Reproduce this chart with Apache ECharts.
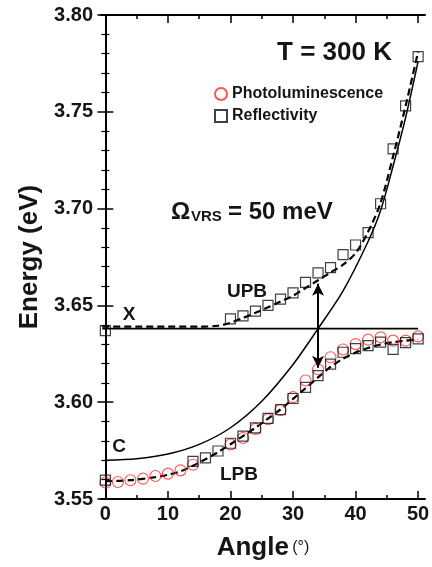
<!DOCTYPE html>
<html>
<head>
<meta charset="utf-8">
<script src="https://cdn.jsdelivr.net/npm/echarts@6/dist/echarts.min.js"></script>
<style>
  html, body { margin: 0; padding: 0; background: #fff; }
  #chart { width: 432px; height: 567px; }
</style>
</head>
<body>
<div id="chart"></div>
<script>
// 反射谱 上支
var reflUpAngle = [0, 20, 22, 24, 26, 28, 30, 32, 34, 36, 38, 40, 42, 44, 46, 48, 50];
var reflUpEnergy = [3.637, 3.643, 3.6446, 3.647, 3.650, 3.6532, 3.6565, 3.6619, 3.6668, 3.6695, 3.6762, 3.6812, 3.6876, 3.7025, 3.7308, 3.7531, 3.7785];
// 反射谱 下支
var reflLowAngle = [0, 14, 16, 18, 20, 22, 24, 26, 28, 30, 32, 34, 36, 38, 40, 42, 44, 46, 48, 50];
var reflLowEnergy = [3.5597, 3.5694, 3.5712, 3.5748, 3.5788, 3.5825, 3.5867, 3.5916, 3.5962, 3.6019, 3.6077, 3.6137, 3.6197, 3.6258, 3.6277, 3.6292, 3.6310, 3.6273, 3.6308, 3.6327];
// 光致发光
var plAngle = [0, 2, 4, 6, 8, 10, 12, 14, 20, 22, 24, 26, 28, 30, 32, 34, 36, 38, 40, 42, 44, 46, 48, 50];
var plEnergy = [3.5585, 3.5588, 3.5597, 3.5605, 3.5619, 3.5631, 3.5648, 3.5677, 3.5782, 3.5815, 3.5862, 3.5912, 3.5960, 3.6026, 3.6112, 3.6170, 3.6232, 3.6272, 3.6300, 3.6323, 3.6335, 3.6318, 3.6318, 3.6340];
// 光子模 C
var cAngle = [0, 5, 10, 15, 20, 25, 30, 34, 38, 42, 44, 46, 48, 50];
var cEnergy = [3.570, 3.5708, 3.5732, 3.5782, 3.5868, 3.6005, 3.6195, 3.638, 3.6575, 3.683, 3.699, 3.722, 3.747, 3.776];
// 激子 X
var xAngle = [-0.5, 50];
var xEnergy = [3.638, 3.638];
// 拟合 UPB / LPB
var upbAngle = [-0.5, 5, 10, 15, 18, 20, 22, 24, 26, 28, 30, 32, 34, 36, 38, 40, 42, 44, 46, 48, 50];
var upbEnergy = [3.639, 3.639, 3.639, 3.639, 3.6395, 3.641, 3.6435, 3.6462, 3.649, 3.652, 3.655, 3.659, 3.663, 3.667, 3.671, 3.677, 3.688, 3.703, 3.727, 3.753, 3.781];
var lpbAngle = [0, 4, 8, 10, 12, 14, 16, 18, 20, 22, 24, 26, 28, 30, 32, 34, 36, 38, 40, 42, 44, 46, 48, 50];
var lpbEnergy = [3.5592, 3.5597, 3.5613, 3.5625, 3.5643, 3.5672, 3.5705, 3.5742, 3.5783, 3.5825, 3.5868, 3.5915, 3.5963, 3.6017, 3.6072, 3.6128, 3.6182, 3.6225, 3.6257, 3.628, 3.6298, 3.631, 3.6318, 3.6325];
// 双箭头 (Ω_VRS)
var arrowAngle = 34;
var arrowTop = 3.6612;
var arrowBottom = 3.6178;
// 刻度
var xMajorTicks = [0, 10, 20, 30, 40, 50];
var xMinorTicks = [5, 15, 25, 35, 45];

function pairs(xs, ys) {
    return xs.map(function(x, i) { return [x, ys[i]]; });
}

var font = "'Liberation Sans', Arial, sans-serif";
var ink = '#151515';

var chart = echarts.init(document.getElementById('chart'));

function xAx(pos, ticks, len, showLabel, showLine, name) {
    return {
        type: 'value', position: pos, min: -0.7, max: 51.1,
        name: name || '', nameLocation: 'middle', nameGap: 36,
        nameTextStyle: {
            rich: {
                a: { fontSize: 26, fontWeight: 'bold', fontFamily: font, color: ink },
                b: { fontSize: 16, fontFamily: font, color: ink }
            }
        },
        axisLine: { show: showLine, lineStyle: { color: '#000', width: 2 } },
        axisTick: { show: true, inside: true, length: len, customValues: ticks, lineStyle: { color: '#000', width: 1.5 } },
        axisLabel: {
            show: showLabel, customValues: ticks, margin: 5,
            fontSize: 20, fontWeight: 'bold', fontFamily: font, color: ink
        },
        splitLine: { show: false }
    };
}

function yAx(pos, showLabel) {
    return {
        type: 'value', position: pos, min: 3.55, max: 3.80, interval: 0.05,
        name: showLabel ? 'Energy (eV)' : '', nameLocation: 'middle', nameGap: 54,
        nameTextStyle: { fontSize: 26, fontWeight: 'bold', fontFamily: font, color: ink },
        axisLine: { show: true, lineStyle: { color: '#000', width: 2 } },
        axisTick: { show: true, inside: true, length: 8, lineStyle: { color: '#000', width: 1.5 } },
        minorTick: { show: true, splitNumber: 5, length: 4, lineStyle: { color: '#000', width: 1.2 } },
        axisLabel: {
            show: showLabel, margin: 8,
            fontSize: 20, fontWeight: 'bold', fontFamily: font, color: ink,
            formatter: function(v) { return v.toFixed(2); }
        },
        splitLine: { show: false }
    };
}

var option = {
    animation: false,
    backgroundColor: '#fff',
    grid: { left: 101, right: 7, top: 15, bottom: 68, containLabel: false, outerBoundsMode: 'none' },
    legend: {
        data: ['Photoluminescence', 'Reflectivity'],
        orient: 'vertical', left: 209, top: 81,
        itemWidth: 12, itemHeight: 12, itemGap: 6,
        textStyle: { fontSize: 16, fontWeight: 'bold', fontFamily: font, color: ink }
    },
    xAxis: [
        xAx('bottom', xMajorTicks, 8, true, true, '{a|Angle} {b|(°)}'),
        xAx('bottom', xMinorTicks, 4, false, false),
        xAx('top', xMajorTicks, 8, false, true),
        xAx('top', xMinorTicks, 4, false, false)
    ],
    yAxis: [yAx('left', true), yAx('right', false)],
    graphic: [
        { type: 'text', style: { text: 'T = 300 K', x: 392, y: 53, align: 'right', verticalAlign: 'middle', fontSize: 26, fontWeight: 'bold', fontFamily: font, fill: ink } },
        { type: 'text', style: { text: 'Ω', x: 171, y: 200, verticalAlign: 'alphabetic', fontSize: 24, fontWeight: 'bold', fontFamily: font, fill: ink } },
        { type: 'text', style: { text: 'VRS', x: 191, y: 209, verticalAlign: 'alphabetic', fontSize: 15, fontWeight: 'bold', fontFamily: font, fill: ink } },
        { type: 'text', style: { text: '= 50 meV', x: 228, y: 200, verticalAlign: 'alphabetic', fontSize: 24, fontWeight: 'bold', fontFamily: font, fill: ink } },
        { type: 'text', style: { text: 'X', x: 129, y: 315, align: 'center', verticalAlign: 'middle', fontSize: 19, fontWeight: 'bold', fontFamily: font, fill: ink } },
        { type: 'text', style: { text: 'C', x: 119, y: 447, align: 'center', verticalAlign: 'middle', fontSize: 19, fontWeight: 'bold', fontFamily: font, fill: ink } },
        { type: 'text', style: { text: 'UPB', x: 247, y: 292, align: 'center', verticalAlign: 'middle', fontSize: 19, fontWeight: 'bold', fontFamily: font, fill: ink } },
        { type: 'text', style: { text: 'LPB', x: 239, y: 475, align: 'center', verticalAlign: 'middle', fontSize: 19, fontWeight: 'bold', fontFamily: font, fill: ink } }
    ],
    series: [
        {
            name: 'C', type: 'line', data: pairs(cAngle, cEnergy), smooth: 0.3,
            showSymbol: false, lineStyle: { color: '#000', width: 1.5 }, z: 2
        },
        {
            name: 'X', type: 'line', data: pairs(xAngle, xEnergy),
            showSymbol: false, lineStyle: { color: '#000', width: 1.6 }, z: 2,
            markLine: {
                silent: true, symbol: ['arrow', 'arrow'], symbolSize: [9, 12],
                lineStyle: { color: '#000', width: 2, type: 'solid' },
                label: { show: false },
                data: [[{ coord: [arrowAngle, arrowTop] }, { coord: [arrowAngle, arrowBottom] }]]
            }
        },
        {
            name: 'UPB', type: 'line', data: pairs(upbAngle, upbEnergy), smooth: 0.3,
            showSymbol: false, lineStyle: { color: '#000', width: 2.2, type: [7, 4] }, z: 2
        },
        {
            name: 'LPB', type: 'line', data: pairs(lpbAngle, lpbEnergy), smooth: 0.3,
            showSymbol: false, lineStyle: { color: '#000', width: 2.2, type: [7, 4] }, z: 2
        },
        {
            name: 'Photoluminescence', type: 'scatter', symbol: 'circle', symbolSize: 11,
            data: pairs(plAngle, plEnergy),
            itemStyle: { color: 'rgba(255,255,255,0)', borderColor: '#ff2a2a', borderWidth: 1.1 }, z: 3
        },
        {
            name: 'Reflectivity', type: 'scatter', symbol: 'rect', symbolSize: 10,
            data: pairs(reflUpAngle, reflUpEnergy).concat(pairs(reflLowAngle, reflLowEnergy)),
            itemStyle: { color: 'rgba(255,255,255,0)', borderColor: '#111', borderWidth: 1.2 }, z: 4
        }
    ]
};

chart.setOption(option);
</script>
</body>
</html>
